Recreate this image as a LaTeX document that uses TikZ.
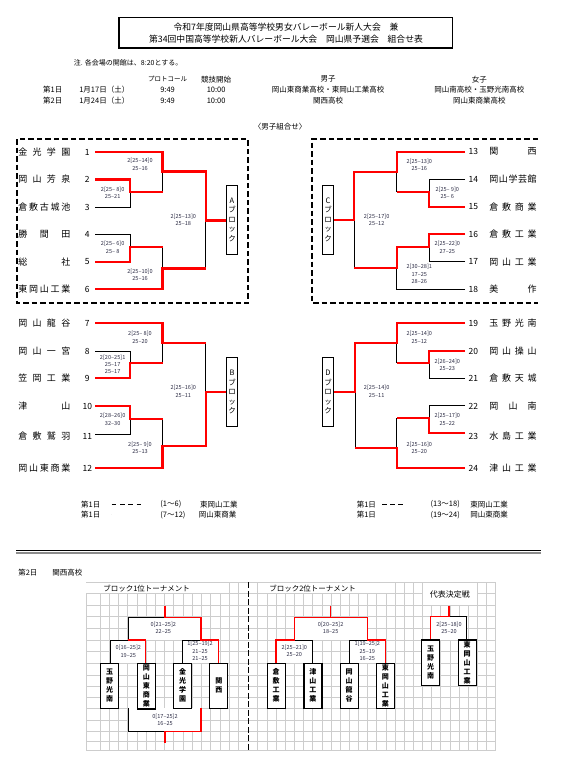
\documentclass[tikz,border=0pt]{standalone}
\usepackage{fontspec}
\setmainfont{Noto Sans CJK JP}
\definecolor{sctext}{RGB}{45,45,70}
\definecolor{gridc}{RGB}{205,205,205}
\definecolor{winred}{RGB}{255,0,0}
\newcommand{\jname}[2]{\makebox[#1pt][s]{#2}}
\begin{document}
\begin{tikzpicture}[x=1pt,y=-1pt,
  every node/.style={inner sep=0pt,outer sep=0pt},
  bl/.style={draw=black,line width=0.7pt},
  rd/.style={draw=winred,line width=2.2pt},
  bls/.style={draw=black,line width=0.8pt},
  rds/.style={draw=winred,line width=1.4pt},
  score/.style={font=\fontsize{5.6}{7.4}\selectfont,text=sctext,align=center},
  lname/.style={font=\fontsize{9}{10}\selectfont,anchor=west},
  tnum/.style={font=\fontsize{8.5}{10}\selectfont},
  blocklab/.style={draw=black,line width=1pt,fill=white,minimum width=10.6pt,align=center,font=\fontsize{7.5}{9.5}\selectfont},
  tbox/.style={draw=black,line width=1.2pt,fill=white,minimum width=18pt,align=center,font=\bfseries\fontsize{7}{9}\selectfont},
  info/.style={font=\fontsize{7.5}{9}\selectfont},
  dashframe/.style={line width=1.5pt,dash pattern=on 5.5pt off 3pt},
  dblframe/.style={double,double distance=1.3pt,line width=0.7pt},
]
\useasboundingbox (0,0) rectangle (565,773);
\fill[white] (0,0) rectangle (565,773);

% ---------------- Title ----------------
\draw[line width=1.5pt] (118.9,17.5) rectangle (452.3,48);
\node[font=\fontsize{8.8}{10}\selectfont] (title1) at (286,27) {令和7年度岡山県高等学校男女バレーボール新人大会　兼};
\node[font=\fontsize{8.8}{10}\selectfont] (title2) at (286,39.5) {第34回中国高等学校新人バレーボール大会　岡山県予選会　組合せ表};
\node[info,anchor=west,font=\fontsize{7}{9}\selectfont] (note) at (73.9,62.7) {注. 各会場の開館は、8:20とする。};

\node[font=\fontsize{6.5}{8}\selectfont] (hproto) at (167.6,79.3) {プロトコール};
\node[info] (hstart) at (216.2,79.3) {競技開始};
\node[info] (hmale) at (328,79.3) {男子};
\node[info] (hfemale) at (479.3,79.3) {女子};

\node[info,anchor=west] (d1) at (43.2,89.5) {第1日};
\node[info,anchor=west] (d1date) at (79.3,89.5) {1月17日（土）};
\node[info] (d1p) at (167.6,89.5) {9:49};
\node[info] (d1s) at (216.2,89.5) {10:00};
\node[info] (d1m) at (328,89.5) {岡山東商業高校・東岡山工業高校};
\node[info] (d1f) at (479.3,89.5) {岡山南高校・玉野光南高校};

\node[info,anchor=west] (d2) at (43.2,100.5) {第2日};
\node[info,anchor=west] (d2date) at (79.3,100.5) {1月24日（土）};
\node[info] (d2p) at (167.6,100.5) {9:49};
\node[info] (d2s) at (216.2,100.5) {10:00};
\node[info] (d2m) at (328,100.5) {関西高校};
\node[info] (d2f) at (479.3,100.5) {岡山東商業高校};

\node[info] (mhead) at (280,127) {〈男子組合せ〉};

% ---------------- Frames ----------------
\draw[dashframe] (17,139) rectangle (248,303);
\draw[dashframe] (538,139) -- (312,139) -- (312,303) -- (538,303);
\draw[dblframe] (17,310) rectangle (248,482);
\draw[dblframe] (538,310) -- (312,310) -- (312,482) -- (538,482);

% ---------------- Block A ----------------
\draw[bl] (95,207)--(130,207)--(130,192);
\draw[bl] (162.5,171.5)--(162.5,192);
\draw[bl] (95,234.5)--(130,234.5)--(130,247);
\draw[bl] (162.5,247)--(162.5,268.5);
\draw[bl] (205.7,220.5)--(205.7,268.5);
\draw[rd] (95,179.5)--(130,179.5)--(130,192)--(162.5,192);
\draw[rd] (95,152)--(162.5,152)--(162.5,171.5)--(205.7,171.5)--(205.7,220.5)--(226.7,220.5);
\draw[rd] (95,262)--(130,262)--(130,247)--(162.5,247);
\draw[rd] (95,289)--(162.5,289)--(162.5,268.5)--(205.7,268.5);
\node[blocklab,minimum height=69pt] (blkA) at (232,219.5) {A\\ブ\\ロ\\ッ\\ク};

\node[lname] (nA1) at (18.3,152) {\jname{52}{金\hfill 光\hfill 学\hfill 園}};
\node[lname] (nA2) at (18.3,179.5) {\jname{52}{岡\hfill 山\hfill 芳\hfill 泉}};
\node[lname] (nA3) at (18.3,207) {\jname{52}{倉\hfill 敷\hfill 古\hfill 城\hfill 池}};
\node[lname] (nA4) at (18.3,234.5) {\jname{52}{勝\hfill 間\hfill 田}};
\node[lname] (nA5) at (18.3,262) {\jname{52}{総\hfill 社}};
\node[lname] (nA6) at (18.3,289) {\jname{52}{東\hfill 岡\hfill 山\hfill 工\hfill 業}};
\node[tnum] (kA1) at (87.3,152) {1};
\node[tnum] (kA2) at (87.3,179.5) {2};
\node[tnum] (kA3) at (87.3,207) {3};
\node[tnum] (kA4) at (87.3,234.5) {4};
\node[tnum] (kA5) at (87.3,262) {5};
\node[tnum] (kA6) at (87.3,289) {6};

\node[score] (sA1) at (140,164.5) {2[25–14]0\\25–16};
\node[score] (sA2) at (112.7,193) {2[25– 8]0\\25–21};
\node[score] (sA3) at (112.7,247.3) {2[25– 6]0\\25– 8};
\node[score] (sA4) at (140,274.7) {2[25–10]0\\25–16};
\node[score] (sAF) at (183.3,219.7) {2[25–13]0\\25–18};

% ---------------- Block B ----------------
\draw[bl] (95,351)--(130,351)--(130,363.3);
\draw[bl] (162.5,343.3)--(162.5,363.3);
\draw[bl] (95,434)--(130,434)--(130,419);
\draw[bl] (162.5,419)--(162.5,445.7);
\draw[bl] (205.7,343.3)--(205.7,392.3);
\draw[rd] (95,323.3)--(162.5,323.3)--(162.5,343.3)--(205.7,343.3);
\draw[rd] (95,378.3)--(130,378.3)--(130,363.3)--(162.5,363.3);
\draw[rd] (95,406)--(130,406)--(130,419)--(162.5,419);
\draw[rd] (95,468.3)--(162.5,468.3)--(162.5,445.7)--(205.7,445.7)--(205.7,392.3)--(226.7,392.3);
\node[blocklab,minimum height=69.4pt] (blkB) at (232,392) {B\\ブ\\ロ\\ッ\\ク};

\node[lname] (nB7) at (18.3,323.3) {\jname{52}{岡\hfill 山\hfill 龍\hfill 谷}};
\node[lname] (nB8) at (18.3,351) {\jname{52}{岡\hfill 山\hfill 一\hfill 宮}};
\node[lname] (nB9) at (18.3,378.3) {\jname{52}{笠\hfill 岡\hfill 工\hfill 業}};
\node[lname] (nB10) at (18.3,406) {\jname{52}{津\hfill 山}};
\node[lname] (nB11) at (18.3,436) {\jname{52}{倉\hfill 敷\hfill 鷲\hfill 羽}};
\node[lname] (nB12) at (18.3,468.3) {\jname{52}{岡\hfill 山\hfill 東\hfill 商\hfill 業}};
\node[tnum] (kB7) at (87.3,323.3) {7};
\node[tnum] (kB8) at (87.3,351) {8};
\node[tnum] (kB9) at (87.3,378.3) {9};
\node[tnum] (kB10) at (87.3,406) {10};
\node[tnum] (kB11) at (87.3,436) {11};
\node[tnum] (kB12) at (87.3,468.3) {12};

\node[score] (sB1) at (140,337.2) {2[25– 8]0\\25–20};
\node[score] (sB2) at (112.7,364.4) {2[20–25]1\\25–17\\25–17};
\node[score] (sB3) at (112.7,419.5) {2[28–26]0\\32–30};
\node[score] (sB4) at (140,447.9) {2[25– 9]0\\25–13};
\node[score] (sBF) at (183.3,391.3) {2[25–16]0\\25–11};

% ---------------- Block C ----------------
\draw[bl] (465,179.3)--(429,179.3)--(429,192.3);
\draw[bl] (396.7,171.7)--(396.7,192.3);
\draw[bl] (465,261.7)--(429,261.7)--(429,246.7);
\draw[bl] (465,289)--(396.7,289)--(396.7,268.3);
\draw[bl] (354.3,220)--(354.3,268.3);
\draw[rd] (465,151.7)--(396.7,151.7)--(396.7,171.7)--(354.3,171.7)--(354.3,220)--(333.3,220);
\draw[rd] (465,206.7)--(429,206.7)--(429,192.3)--(396.7,192.3);
\draw[rd] (465,234.3)--(429,234.3)--(429,246.7)--(396.7,246.7)--(396.7,268.3)--(354.3,268.3);
\node[blocklab,minimum height=69pt] (blkC) at (328,219.5) {C\\ブ\\ロ\\ッ\\ク};

\node[tnum] (kC13) at (473.3,151.7) {13};
\node[tnum] (kC14) at (473.3,179.3) {14};
\node[tnum] (kC15) at (473.3,206.7) {15};
\node[tnum] (kC16) at (473.3,234.3) {16};
\node[tnum] (kC17) at (473.3,261.7) {17};
\node[tnum] (kC18) at (473.3,289) {18};
\node[lname] (nC13) at (489.3,151.7) {\jname{47.4}{関\hfill 西}};
\node[lname] (nC14) at (489.3,179.3) {\jname{47.4}{岡\hfill 山\hfill 学\hfill 芸\hfill 館}};
\node[lname] (nC15) at (489.3,206.7) {\jname{47.4}{倉\hfill 敷\hfill 商\hfill 業}};
\node[lname] (nC16) at (489.3,234.3) {\jname{47.4}{倉\hfill 敷\hfill 工\hfill 業}};
\node[lname] (nC17) at (489.3,261.7) {\jname{47.4}{岡\hfill 山\hfill 工\hfill 業}};
\node[lname] (nC18) at (489.3,289) {\jname{47.4}{美\hfill 作}};

\node[score] (sC1) at (419.3,164.8) {2[25–13]0\\25–16};
\node[score] (sC2) at (447.3,192.8) {2[25– 9]0\\25– 6};
\node[score] (sC3) at (447.3,247.5) {2[25–22]0\\27–25};
\node[score] (sC4) at (419.3,274.2) {2[30–28]1\\17–25\\28–26};
\node[score] (sCF) at (376.7,219.7) {2[25–17]0\\25–12};

% ---------------- Block D ----------------
\draw[bl] (465,378.3)--(429,378.3)--(429,363.3);
\draw[bl] (396.7,343.3)--(396.7,363.3);
\draw[bl] (465,405.5)--(429,405.5)--(429,418.3);
\draw[bl] (396.7,418.3)--(396.7,447.7);
\draw[bl] (355,392.3)--(355,447.7);
\draw[rd] (465,323.3)--(396.7,323.3)--(396.7,343.3)--(355,343.3)--(355,392.3)--(333.3,392.3);
\draw[rd] (465,351)--(429,351)--(429,363.3)--(396.7,363.3);
\draw[rd] (465,433.3)--(429,433.3)--(429,418.3)--(396.7,418.3);
\draw[rd] (465,468.3)--(396.7,468.3)--(396.7,447.7)--(355,447.7);
\node[blocklab,minimum height=69.4pt] (blkD) at (328,392) {D\\ブ\\ロ\\ッ\\ク};

\node[tnum] (kD19) at (473.3,323.3) {19};
\node[tnum] (kD20) at (473.3,351) {20};
\node[tnum] (kD21) at (473.3,378.3) {21};
\node[tnum] (kD22) at (473.3,406) {22};
\node[tnum] (kD23) at (473.3,436) {23};
\node[tnum] (kD24) at (473.3,468.3) {24};
\node[lname] (nD19) at (489.3,323.3) {\jname{47.4}{玉\hfill 野\hfill 光\hfill 南}};
\node[lname] (nD20) at (489.3,351) {\jname{47.4}{岡\hfill 山\hfill 操\hfill 山}};
\node[lname] (nD21) at (489.3,378.3) {\jname{47.4}{倉\hfill 敷\hfill 天\hfill 城}};
\node[lname] (nD22) at (489.3,406) {\jname{47.4}{岡\hfill 山\hfill 南}};
\node[lname] (nD23) at (489.3,436) {\jname{47.4}{水\hfill 島\hfill 工\hfill 業}};
\node[lname] (nD24) at (489.3,468.3) {\jname{47.4}{津\hfill 山\hfill 工\hfill 業}};

\node[score] (sD1) at (419.3,337.2) {2[25–14]0\\25–12};
\node[score] (sD2) at (447.3,364.8) {2[26–24]0\\25–23};
\node[score] (sD3) at (447.3,419.5) {2[25–17]0\\25–22};
\node[score] (sD4) at (419.3,447.9) {2[25–16]0\\25–20};
\node[score] (sDF) at (376.7,391.3) {2[25–14]0\\25–11};

% ---------------- Legend ----------------
\node[info,anchor=west] (lg1) at (81.1,504.3) {第1日};
\draw[line width=1.2pt,dash pattern=on 4.5pt off 3.8pt] (111.7,504.3) -- (142.3,504.3);
\node[info,anchor=west] (lg1r) at (160.4,504.3) {(1〜6)};
\node[info,anchor=west] (lg1s) at (200,504.3) {東岡山工業};
\node[info,anchor=west] (lg2) at (81.1,515) {第1日};
\draw[double,double distance=1.3pt,line width=0.6pt] (111.7,515) -- (134,515);
\node[info,anchor=west] (lg2r) at (160.4,515) {(7〜12)};
\node[info,anchor=west] (lg2s) at (198.9,515) {岡山東商業};

\node[info,anchor=west] (lg3) at (356.8,504.3) {第1日};
\draw[line width=1.2pt,dash pattern=on 4.5pt off 3.7pt] (382,504.3) -- (402.9,504.3);
\node[info,anchor=west] (lg3r) at (430.6,504.3) {(13〜18)};
\node[info,anchor=west] (lg3s) at (470.3,504.3) {東岡山工業};
\node[info,anchor=west] (lg4) at (356.8,515) {第1日};
\draw[double,double distance=1.3pt,line width=0.6pt] (382,515) -- (402.9,515);
\node[info,anchor=west] (lg4r) at (430.6,515) {(19〜24)};
\node[info,anchor=west] (lg4s) at (470.3,515) {岡山東商業};

% separator
\draw[line width=1.3pt] (16,550.8) -- (541.3,550.8);
\draw[line width=2pt,draw=black!45] (16,553.4) -- (541.3,553.4);

\node[info,anchor=west] (day2) at (18.3,572.3) {第2日};
\node[info,anchor=west] (day2s) at (52.3,572.3) {関西高校};

% ---------------- Grid ----------------
\foreach \yy in {582.3,593.5,605,616.7,628.3,640,651.7,663.3,675,686.5,697.5,708.3,720,731.7,741.7,750.7}
  \draw[gridc,line width=0.6pt] (86,\yy) -- (495.65,\yy);
\draw[gridc,line width=0.6pt] (86,582.3) -- (86,750.7);
\foreach \k in {0,...,15}
  \draw[gridc,line width=0.6pt] ({100+9.22*\k},582.3) -- ({100+9.22*\k},750.7);
\foreach \k in {1,...,27}
  \draw[gridc,line width=0.6pt] ({248.6+9.15*\k},582.3) -- ({248.6+9.15*\k},750.7);
% merged header cells
\fill[white] (86.4,582.7) rectangle (228.7,593.1);
\fill[white] (258.1,582.7) rectangle (394.6,593.1);
\fill[white] (422.8,582.7) rectangle (477.0,604.6);
\draw[line width=1.5pt,dash pattern=on 6pt off 2.5pt] (248.3,582.3) -- (248.3,750.7);

\node[info,anchor=west] (th1) at (103.3,588.5) {ブロック1位トーナメント};
\node[info,anchor=west] (th2) at (269.3,588.5) {ブロック2位トーナメント};
\node[font=\fontsize{8}{9}\selectfont] (th3) at (449.9,594) {代表決定戦};

% ---------- Tournament 1 ----------
\fill[white] (128.3,617.3) rectangle (201,640);
\fill[white] (110,640) rectangle (145.7,663.3);
\fill[white] (182.7,640) rectangle (218.3,663.3);
\fill[white] (128.3,708.3) rectangle (201,731.7);
\draw[bls] (165,617.3) -- (128.3,617.3) -- (128.3,640);
\draw[bls] (128.3,640) -- (110,640) -- (110,663.3);
\draw[bls] (201,640) -- (182.7,640) -- (182.7,663.3);
\draw[bls] (128.3,708.3) -- (128.3,731.7) -- (165,731.7);
\draw[rds] (165,605.7) -- (165,617.3) -- (201,617.3) -- (201,640) -- (218.3,640) -- (218.3,663.3);
\draw[rds] (128.3,640) -- (145.7,640) -- (145.7,663.3);
\draw[rds] (201,708.3) -- (201,731.7) -- (165,731.7) -- (165,742.7);

\node[tbox,minimum height=45pt] (bT1a) at (109.5,685.8) {玉\\野\\光\\南};
\node[tbox,minimum height=45.7pt] (bT1b) at (146.3,686.1) {岡\\山\\東\\商\\業};
\node[tbox,minimum height=45pt] (bT1c) at (182.5,685.8) {金\\光\\学\\園};
\node[tbox,minimum height=45pt] (bT1d) at (218.8,685.8) {関\\西};

\node[score] (sT1s) at (163.3,628) {0[21–25]2\\22–25};
\node[score] (sT1a) at (128.3,651.3) {0[16–25]2\\19–25};
\node[score] (sT1b) at (200,651.2) {1[25–19]2\\21–25\\21–25};
\node[score] (sT1c) at (165,720) {0[17–25]2\\16–25};

% ---------- Tournament 2 ----------
\fill[white] (294.3,617.3) rectangle (367.3,640);
\fill[white] (276,640) rectangle (312.3,663.3);
\fill[white] (349,640) rectangle (385.7,663.3);
\draw[bls] (294.3,640) -- (312.3,640) -- (312.3,663.3);
\draw[bls] (367.3,640) -- (349,640) -- (349,663.3);
\draw[rds] (276,663.3) -- (276,640) -- (294.3,640) -- (294.3,617.3) -- (367.3,617.3) -- (367.3,640) -- (385.7,640) -- (385.7,663.3);
\draw[rds] (330.7,605.7) -- (330.7,617.3);

\node[tbox,minimum height=45pt] (bT2a) at (276.2,685.8) {倉\\敷\\工\\業};
\node[tbox,minimum height=45pt] (bT2b) at (312.9,685.8) {津\\山\\工\\業};
\node[tbox,minimum height=45pt] (bT2c) at (349.2,685.8) {岡\\山\\龍\\谷};
\node[tbox,minimum height=45pt] (bT2d) at (385.4,685.8) {東\\岡\\山\\工\\業};

\node[score] (sT2s) at (330.7,628) {0[20–25]2\\18–25};
\node[score] (sT2a) at (294.3,651) {2[25–21]0\\25–20};
\node[score] (sT2b) at (367.3,651.2) {1[19–25]2\\25–19\\16–25};

% ---------- Tournament 3 ----------
\fill[white] (430.7,616.7) rectangle (466.7,640);
\draw[bls] (449,616.7) -- (466.7,616.7) -- (466.7,640);
\draw[rds] (449,605.7) -- (449,616.7) -- (430.7,616.7) -- (430.7,640);
\node[tbox,minimum height=45.7pt] (bT3a) at (430.5,662.9) {玉\\野\\光\\南};
\node[tbox,minimum height=45.7pt] (bT3b) at (467.2,662.9) {東\\岡\\山\\工\\業};
\node[score] (sT3) at (449,628) {2[25–18]0\\25–20};

\end{tikzpicture}
\end{document}
